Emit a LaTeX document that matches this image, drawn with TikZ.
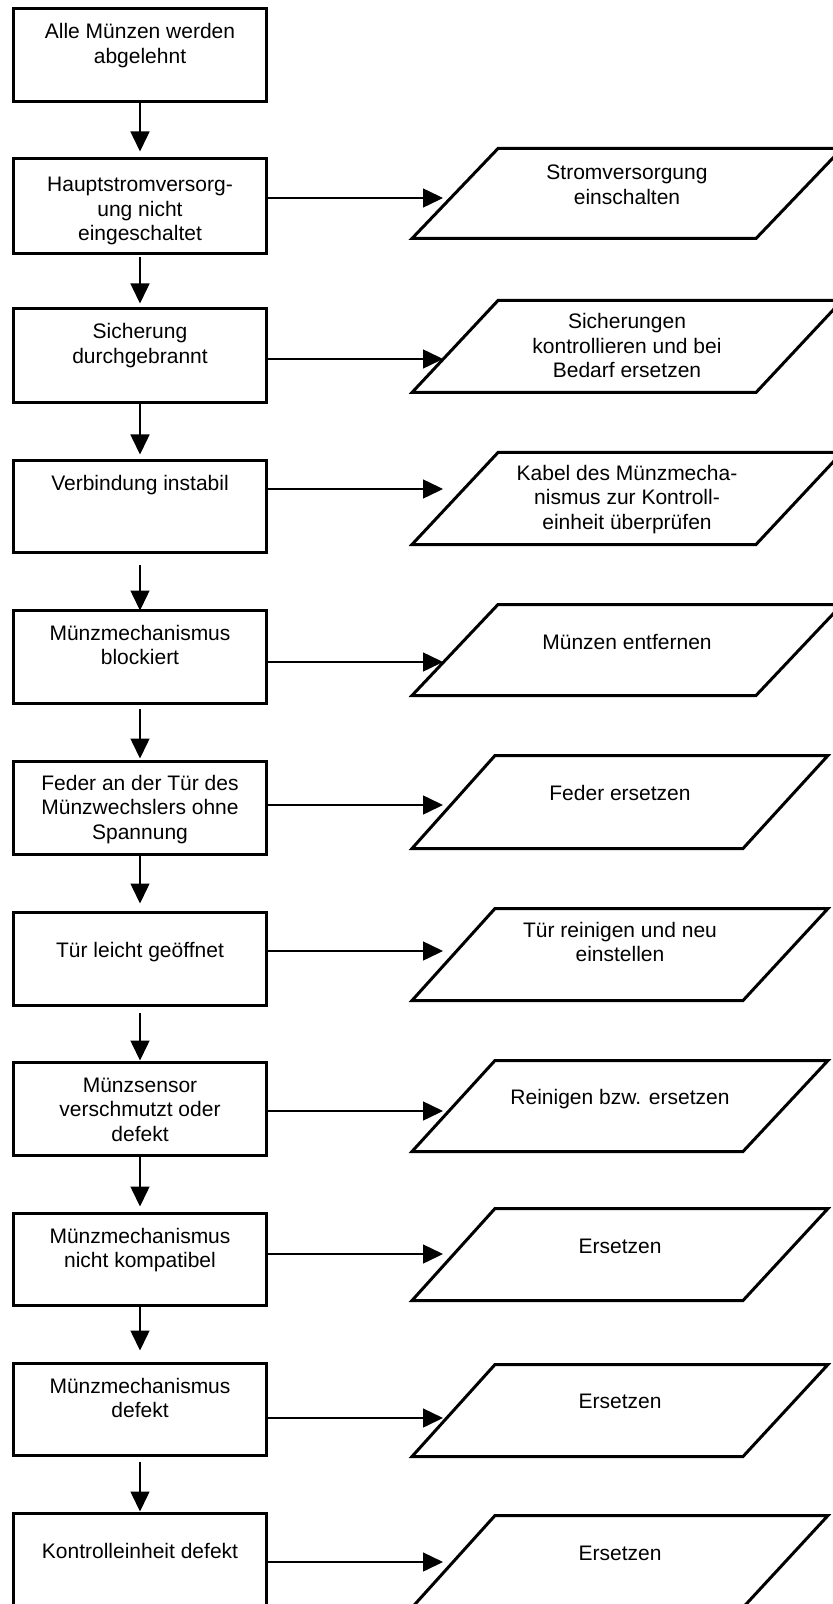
\documentclass[tikz,border=0pt]{standalone}
\usepackage{fontspec}
\setmainfont{Liberation Sans}
\usetikzlibrary{arrows.meta}
\tikzset{
  stepbox/.style={draw, line width=1.5pt, fill=white, inner sep=0pt, outer sep=0pt, minimum width=126.5pt},
  para/.style={draw, line width=1.5pt, line join=miter},
  txt/.style={align=center, inner sep=0pt, anchor=base, font=\fontsize{10.5}{12.25}\selectfont},
  conn/.style={line width=0.75pt, -{Triangle[length=10pt,width=9.5pt]}}
}
\newcommand{\boxnode}[3]{\node[stepbox, minimum height={(#3-#2-3)*0.5pt}] (#1) at (140,{(#2+#3)/2}) {};}
\newcommand{\paranode}[6]{\draw[para] (#3,{#2-1.5}) -- (#4,{#1+1.5}) -- (#6,{#1+1.5}) -- (#5,{#2-1.5}) -- cycle;}
\begin{document}
\begin{tikzpicture}[x=0.5pt,y=-0.5pt]
\useasboundingbox (0,0) rectangle (833,1604);
\fill[white] (0,0) rectangle (833,1604);
\clip (0,0) rectangle (833,1604);

% left boxes
\boxnode{b1}{7}{103}
\boxnode{b2}{157}{255}
\boxnode{b3}{307}{404}
\boxnode{b4}{459}{554}
\boxnode{b5}{609}{705}
\boxnode{b6}{760}{856}
\boxnode{b7}{911}{1007}
\boxnode{b8}{1061}{1157}
\boxnode{b9}{1212}{1307}
\boxnode{b10}{1362}{1457}
\boxnode{b11}{1512}{1608}

% (anchor=base is the baseline of the last line)
\node[txt] (t1) at (140,63.5) {Alle Münzen werden\\abgelehnt};
\node[txt] (t2) at (140,241) {Hauptstromversorg-\\ung nicht\\eingeschaltet};
\node[txt] (t3) at (140,363.5) {Sicherung\\durchgebrannt};
\node[txt] (t4) at (140,490) {Verbindung instabil};
\node[txt] (t5) at (140,664.5) {Münzmechanismus\\blockiert};
\node[txt] (t6) at (140,839) {Feder an der Tür des\\Münzwechslers ohne\\Spannung};
\node[txt] (t7) at (140,957) {Tür leicht geöffnet};
\node[txt] (t8) at (140,1141) {Münzsensor\\verschmutzt oder\\defekt};
\node[txt] (t9) at (140,1267.5) {Münzmechanismus\\nicht kompatibel};
\node[txt] (t10) at (140,1417.5) {Münzmechanismus\\defekt};
\node[txt] (t11) at (140,1558) {Kontrolleinheit defekt};

% parallelograms
\paranode{147}{240}{412}{498}{756}{842}
\paranode{299}{394}{412}{498}{756}{842}
\paranode{451}{546}{412}{498}{756}{842}
\paranode{603}{697}{412}{498}{756}{842}
\paranode{754}{850}{412}{495}{743}{828}
\paranode{907}{1002}{412}{495}{743}{828}
\paranode{1059}{1153}{412}{495}{743}{828}
\paranode{1207}{1302}{412}{495}{743}{828}
\paranode{1363}{1458}{412}{495}{743}{828}
\paranode{1514}{1609}{412}{495}{743}{828}

\node[txt] (q2) at (627,204.5) {Stromversorgung\\einschalten};
\node[txt] (q3) at (627,378) {Sicherungen\\kontrollieren und bei\\Bedarf ersetzen};
\node[txt] (q4) at (627,529) {Kabel des Münzmecha-\\nismus zur Kontroll-\\einheit überprüfen};
\node[txt] (q5) at (627,649) {Münzen entfernen};
\node[txt] (q6) at (620,800) {Feder ersetzen};
\node[txt] (q7) at (620,961.5) {Tür reinigen und neu\\einstellen};
\node[txt] (q8) at (620,1104) {Reinigen bzw. ersetzen};
\node[txt] (q9) at (620,1253) {Ersetzen};
\node[txt] (q10) at (620,1408) {Ersetzen};
\node[txt] (q11) at (620,1560) {Ersetzen};

% vertical connectors
\draw[conn, shorten >=3.5pt] (b1.south) -- (b2.north);
\draw[conn, shorten <=2pt, shorten >=2.5pt] (b2.south) -- (b3.north);
\draw[conn, shorten >=3pt] (b3.south) -- (b4.north);
\draw[conn, shorten <=6pt] (b4.south) -- (b5.north);
\draw[conn, shorten <=2.5pt, shorten >=1.5pt] (b5.south) -- (b6.north);
\draw[conn, shorten >=4.5pt] (b6.south) -- (b7.north);
\draw[conn, shorten <=3.5pt, shorten >=1pt] (b7.south) -- (b8.north);
\draw[conn, shorten >=3.5pt] (b8.south) -- (b9.north);
\draw[conn, shorten >=6.5pt] (b9.south) -- (b10.north);
\draw[conn, shorten <=3pt, shorten >=1pt] (b10.south) -- (b11.north);

% horizontal connectors
\coordinate (a2) at (443,198);
\coordinate (a3) at (443,359);
\coordinate (a4) at (443,489);
\coordinate (a5) at (443,662);
\coordinate (a6) at (443,805);
\coordinate (a7) at (443,951);
\coordinate (a8) at (443,1111);
\coordinate (a9) at (443,1254);
\coordinate (a10) at (443,1418);
\coordinate (a11) at (443,1562);
\foreach \i in {2,...,11} {
  \draw[conn] (b\i.east |- a\i) -- (a\i);
}
\end{tikzpicture}
\end{document}
